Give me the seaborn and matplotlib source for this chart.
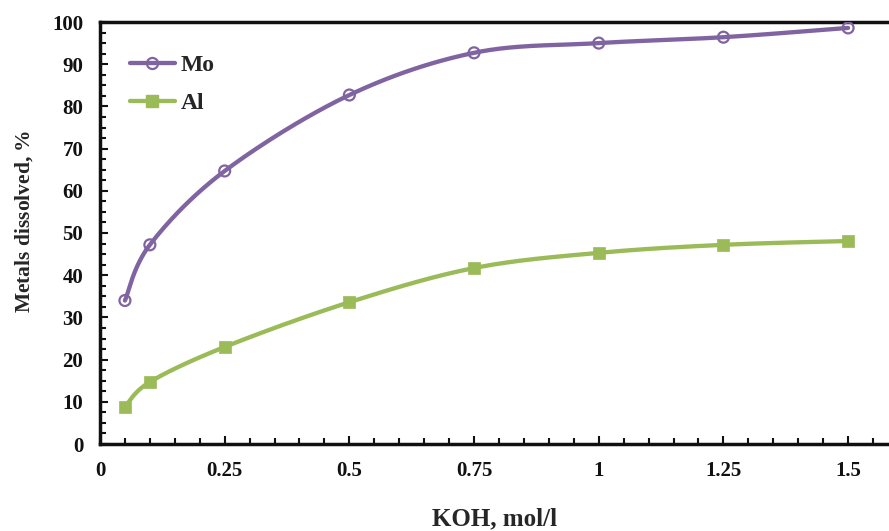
import numpy as np
import matplotlib
matplotlib.use("Agg")
import matplotlib.pyplot as plt
import seaborn as sns
from matplotlib.lines import Line2D
from matplotlib.ticker import MultipleLocator, FixedLocator

koh = [0.05, 0.1, 0.25, 0.5, 0.75, 1.0, 1.25, 1.5]
mo = [34.0, 47.2, 64.7, 82.7, 92.7, 95.0, 96.4, 98.6]
al = [8.8, 14.7, 23.0, 33.6, 41.7, 45.3, 47.2, 48.1]
xticks = [0, 0.25, 0.5, 0.75, 1, 1.25, 1.5]
xticklabels = ["0", "0.25", "0.5", "0.75", "1", "1.25", "1.5"]
yticks = [0, 10, 20, 30, 40, 50, 60, 70, 80, 90, 100]

sns.set_style("ticks")
plt.rcParams["font.family"] = ["Liberation Serif", "DejaVu Serif"]
plt.rcParams["font.weight"] = "bold"
plt.rcParams["mathtext.fontset"] = "custom"
plt.rcParams["mathtext.it"] = "Liberation Serif:italic:bold"
plt.rcParams["mathtext.rm"] = "Liberation Serif:bold"

MO_C = "#8064A2"
AL_C = "#9BBB59"
XMAX = 1.582

fig = plt.figure(figsize=(8.89, 5.31), dpi=100)
ax = fig.add_axes([100 / 889, 1 - 444 / 531, 1 - 100 / 889, (444 - 22) / 531])


def smooth(xs, ys, sx=789 / XMAX, sy=422 / 100, n=40):
    P = np.column_stack([np.asarray(xs) * sx, np.asarray(ys) * sy])
    pts = []
    for i in range(len(P) - 1):
        p0 = P[i - 1] if i > 0 else P[i]
        p1 = P[i]
        p2 = P[i + 1]
        p3 = P[i + 2] if i + 2 < len(P) else P[i + 1]
        c1 = p1 + (p2 - p0) / 6
        c2 = p2 - (p3 - p1) / 6
        t = np.linspace(0, 1, n)[:, None]
        seg = ((1 - t) ** 3) * p1 + 3 * ((1 - t) ** 2) * t * c1 + 3 * (1 - t) * t ** 2 * c2 + t ** 3 * p2
        pts.append(seg if i == 0 else seg[1:])
    S = np.vstack(pts)
    return S[:, 0] / sx, S[:, 1] / sy


mx, my = smooth(koh, mo)
axx, ayy = smooth(koh, al)
ax.plot(mx, my, color=MO_C, lw=3.1, zorder=2, solid_capstyle="round")
ax.plot(axx, ayy, color=AL_C, lw=3.1, zorder=2, solid_capstyle="round")
sns.scatterplot(x=koh, y=mo, ax=ax, marker="o", s=62, facecolor="none",
                edgecolor=MO_C, linewidth=1.6, zorder=3)
sns.scatterplot(x=koh, y=al, ax=ax, marker="s", s=78, color=AL_C,
                edgecolor=AL_C, linewidth=0.5, zorder=3)

ax.set_xlim(0, XMAX)
ax.set_ylim(0, 100)
ax.xaxis.set_major_locator(FixedLocator(xticks))
ax.set_xticklabels(xticklabels)
ax.xaxis.set_minor_locator(MultipleLocator(0.05))
ax.yaxis.set_major_locator(FixedLocator(yticks))
ax.yaxis.set_minor_locator(MultipleLocator(2.5))
ax.tick_params(which="both", direction="in", width=1.5, colors="#111111",
               labelsize=15, top=False, right=False)
ax.tick_params(which="major", length=6, pad=12)
ax.tick_params(which="minor", length=4)
for lab in ax.get_xticklabels() + ax.get_yticklabels():
    lab.set_fontweight("bold")
for s in ["left", "bottom", "top"]:
    ax.spines[s].set_linewidth(2.5)
    ax.spines[s].set_color("#111111")
ax.spines["right"].set_visible(False)

ax.set_xlabel("KOH, mol/l", fontsize=18, fontweight="bold", labelpad=19)
ax.set_ylabel(r"Metals dissolved, $\it{\%}$", fontsize=15.5, fontweight="bold")
ax.yaxis.set_label_coords(-0.083, 0.528)

handles = [
    Line2D([], [], color=MO_C, lw=3.1, marker="o", markersize=8, markerfacecolor="none",
           markeredgecolor=MO_C, markeredgewidth=1.6),
    Line2D([], [], color=AL_C, lw=3.1, marker="s", markersize=8.5, markerfacecolor=AL_C,
           markeredgecolor=AL_C),
]
leg = ax.legend(handles, ["Mo", "Al"], loc="upper left", bbox_to_anchor=(0.038, 0.923),
                frameon=False, borderpad=0, borderaxespad=0, handlelength=1.9,
                handletextpad=0.25, labelspacing=0.7,
                prop={"family": "Liberation Serif", "weight": "bold", "size": 17})

fig.savefig("out.png", dpi=100)
